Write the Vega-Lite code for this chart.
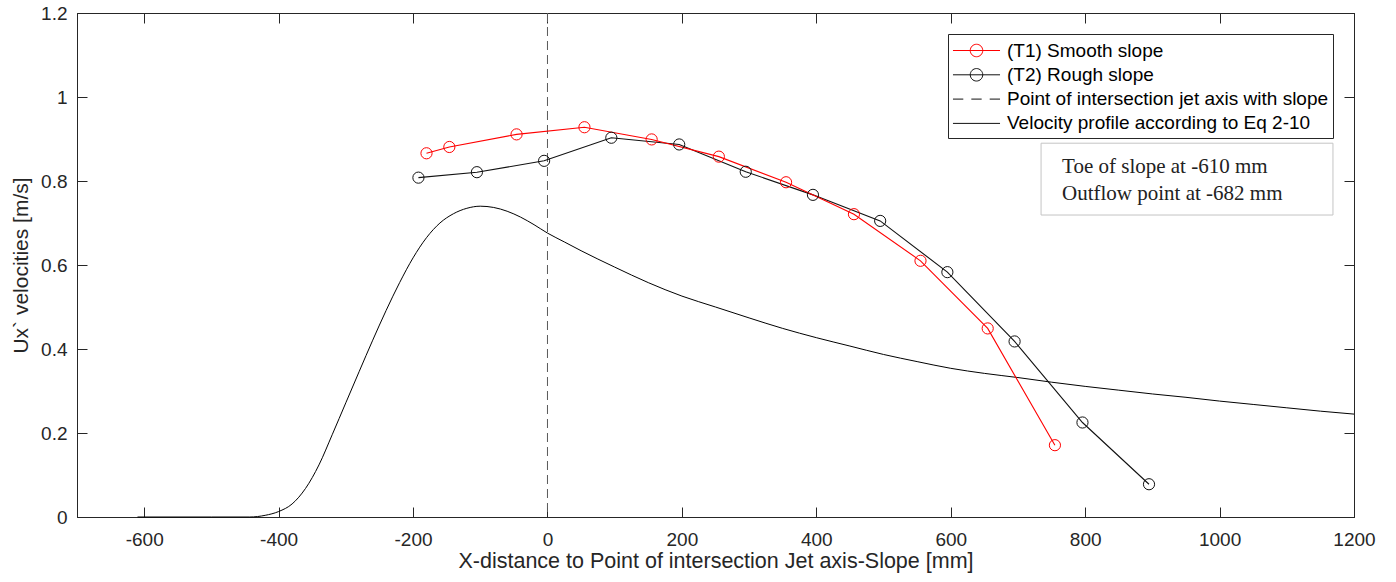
{
  "$schema": "https://vega.github.io/schema/vega-lite/v6.json",
  "width": 1277,
  "height": 504,
  "autosize": {"type": "none"},
  "padding": {"left": 77, "top": 13, "right": 42, "bottom": 65},
  "background": "#ffffff",
  "datasets": {
    "measured": [
      {"series": "(T1) Smooth slope", "x_mm": -180, "u": 0.866},
      {"series": "(T1) Smooth slope", "x_mm": -146, "u": 0.881},
      {"series": "(T1) Smooth slope", "x_mm": -46, "u": 0.911},
      {"series": "(T1) Smooth slope", "x_mm": 55, "u": 0.928},
      {"series": "(T1) Smooth slope", "x_mm": 155, "u": 0.899},
      {"series": "(T1) Smooth slope", "x_mm": 255, "u": 0.858},
      {"series": "(T1) Smooth slope", "x_mm": 355, "u": 0.797},
      {"series": "(T1) Smooth slope", "x_mm": 456, "u": 0.721},
      {"series": "(T1) Smooth slope", "x_mm": 555, "u": 0.61},
      {"series": "(T1) Smooth slope", "x_mm": 655, "u": 0.449},
      {"series": "(T1) Smooth slope", "x_mm": 755, "u": 0.171},
      {"series": "(T2) Rough slope", "x_mm": -192, "u": 0.808},
      {"series": "(T2) Rough slope", "x_mm": -105, "u": 0.821},
      {"series": "(T2) Rough slope", "x_mm": -5, "u": 0.848},
      {"series": "(T2) Rough slope", "x_mm": 95, "u": 0.903},
      {"series": "(T2) Rough slope", "x_mm": 196, "u": 0.887},
      {"series": "(T2) Rough slope", "x_mm": 295, "u": 0.822},
      {"series": "(T2) Rough slope", "x_mm": 395, "u": 0.767},
      {"series": "(T2) Rough slope", "x_mm": 495, "u": 0.705},
      {"series": "(T2) Rough slope", "x_mm": 595, "u": 0.583},
      {"series": "(T2) Rough slope", "x_mm": 695, "u": 0.418},
      {"series": "(T2) Rough slope", "x_mm": 796, "u": 0.225},
      {"series": "(T2) Rough slope", "x_mm": 895, "u": 0.078}
    ],
    "profile": [
      {"x_mm": -610, "u": 0},
      {"x_mm": -500, "u": 0},
      {"x_mm": -443, "u": 0},
      {"x_mm": -420, "u": 0.004},
      {"x_mm": -400, "u": 0.013},
      {"x_mm": -380, "u": 0.031},
      {"x_mm": -360, "u": 0.068},
      {"x_mm": -340, "u": 0.124},
      {"x_mm": -320, "u": 0.197},
      {"x_mm": -300, "u": 0.272},
      {"x_mm": -280, "u": 0.347},
      {"x_mm": -260, "u": 0.421},
      {"x_mm": -240, "u": 0.492},
      {"x_mm": -220, "u": 0.558},
      {"x_mm": -200, "u": 0.617},
      {"x_mm": -180, "u": 0.665},
      {"x_mm": -160, "u": 0.7},
      {"x_mm": -140, "u": 0.722},
      {"x_mm": -120, "u": 0.735},
      {"x_mm": -100, "u": 0.74},
      {"x_mm": -80, "u": 0.737},
      {"x_mm": -60, "u": 0.728},
      {"x_mm": -40, "u": 0.714},
      {"x_mm": -20, "u": 0.696},
      {"x_mm": 0, "u": 0.676},
      {"x_mm": 25, "u": 0.655},
      {"x_mm": 50, "u": 0.634},
      {"x_mm": 100, "u": 0.595},
      {"x_mm": 150, "u": 0.558},
      {"x_mm": 200, "u": 0.526},
      {"x_mm": 250, "u": 0.5},
      {"x_mm": 300, "u": 0.474},
      {"x_mm": 350, "u": 0.449},
      {"x_mm": 400, "u": 0.427},
      {"x_mm": 450, "u": 0.407},
      {"x_mm": 500, "u": 0.387},
      {"x_mm": 550, "u": 0.37},
      {"x_mm": 600, "u": 0.354},
      {"x_mm": 650, "u": 0.342},
      {"x_mm": 700, "u": 0.332},
      {"x_mm": 750, "u": 0.321},
      {"x_mm": 800, "u": 0.311},
      {"x_mm": 850, "u": 0.302},
      {"x_mm": 900, "u": 0.293},
      {"x_mm": 950, "u": 0.285},
      {"x_mm": 1000, "u": 0.276},
      {"x_mm": 1050, "u": 0.268},
      {"x_mm": 1100, "u": 0.26},
      {"x_mm": 1150, "u": 0.252},
      {"x_mm": 1200, "u": 0.245}
    ]
  },
  "layer": [
    {
      "description": "Point of intersection of the jet axis with the slope (x = 0), plus the top frame axis",
      "data": {"values": [{}]},
      "mark": {"type": "rule", "stroke": "#5a5a5a", "strokeWidth": 1, "strokeDash": [9, 5]},
      "encoding": {
        "x": {
          "datum": 0,
          "type": "quantitative",
          "scale": {"domain": [-700, 1200], "nice": false, "zero": false},
          "axis": {"orient": "top", "values": [-600, -400, -200, 0, 200, 400, 600, 800, 1000, 1200], "labels": false, "title": null, "domain": true, "ticks": true, "tickSize": -10}
        }
      }
    },
    {
      "description": "Velocity profile according to Eq 2-10, plus the right frame axis",
      "data": {"name": "profile"},
      "mark": {"type": "line", "stroke": "#000000", "strokeWidth": 1, "interpolate": "monotone"},
      "encoding": {
        "x": {"field": "x_mm", "type": "quantitative", "scale": {"domain": [-700, 1200], "nice": false, "zero": false}, "axis": null},
        "y": {
          "field": "u",
          "type": "quantitative",
          "scale": {"domain": [0, 1.2], "nice": false, "zero": false},
          "axis": {"orient": "right", "values": [0, 0.2, 0.4, 0.6, 0.8, 1, 1.2], "labels": false, "title": null, "domain": true, "ticks": true, "tickSize": -10}
        }
      }
    },
    {
      "description": "T2 rough slope, connecting line; carries the labelled bottom and left axes",
      "data": {"name": "measured"},
      "transform": [{"filter": "datum.series === '(T2) Rough slope'"}],
      "mark": {"type": "line", "stroke": "#111111", "strokeWidth": 1.1},
      "encoding": {
        "x": {
          "field": "x_mm",
          "type": "quantitative",
          "scale": {"domain": [-700, 1200], "nice": false, "zero": false},
          "axis": {
            "orient": "bottom",
            "values": [-600, -400, -200, 0, 200, 400, 600, 800, 1000, 1200],
            "labelExpr": "'' + datum.value",
            "tickSize": -10,
            "labelPadding": 23,
            "title": "X-distance to Point of intersection Jet axis-Slope [mm]",
            "titleFontSize": 21.5,
            "titleY": 50,
            "titleBaseline": "alphabetic"
          }
        },
        "y": {
          "field": "u",
          "type": "quantitative",
          "scale": {"domain": [0, 1.2], "nice": false, "zero": false},
          "axis": {
            "orient": "left",
            "values": [0, 0.2, 0.4, 0.6, 0.8, 1, 1.2],
            "labelExpr": "'' + datum.value",
            "tickSize": -10,
            "labelPadding": 20,
            "title": "Ux` velocities [m/s]",
            "titleFontSize": 21,
            "titleX": -50,
            "titleAngle": 270,
            "titleBaseline": "alphabetic"
          }
        }
      }
    },
    {
      "description": "T1 smooth slope, connecting line",
      "data": {"name": "measured"},
      "transform": [{"filter": "datum.series === '(T1) Smooth slope'"}],
      "mark": {"type": "line", "stroke": "#ff0000", "strokeWidth": 1.1},
      "encoding": {
        "x": {"field": "x_mm", "type": "quantitative", "scale": {"domain": [-700, 1200], "nice": false, "zero": false}, "axis": null},
        "y": {"field": "u", "type": "quantitative", "scale": {"domain": [0, 1.2], "nice": false, "zero": false}, "axis": null}
      }
    },
    {
      "description": "T2 rough slope, open circle markers",
      "data": {"name": "measured"},
      "transform": [{"filter": "datum.series === '(T2) Rough slope'"}],
      "mark": {"type": "point", "shape": "circle", "filled": false, "size": 125, "strokeWidth": 1, "opacity": 1, "stroke": "#111111"},
      "encoding": {
        "x": {"field": "x_mm", "type": "quantitative", "scale": {"domain": [-700, 1200], "nice": false, "zero": false}, "axis": null},
        "y": {"field": "u", "type": "quantitative", "scale": {"domain": [0, 1.2], "nice": false, "zero": false}, "axis": null}
      }
    },
    {
      "description": "T1 smooth slope, open circle markers",
      "data": {"name": "measured"},
      "transform": [{"filter": "datum.series === '(T1) Smooth slope'"}],
      "mark": {"type": "point", "shape": "circle", "filled": false, "size": 125, "strokeWidth": 1, "opacity": 1, "stroke": "#ff0000"},
      "encoding": {
        "x": {"field": "x_mm", "type": "quantitative", "scale": {"domain": [-700, 1200], "nice": false, "zero": false}, "axis": null},
        "y": {"field": "u", "type": "quantitative", "scale": {"domain": [0, 1.2], "nice": false, "zero": false}, "axis": null}
      }
    },
    {
      "description": "Legend entries: line-and-marker, dashed and solid key symbols",
      "data": {"values": []},
      "mark": {"type": "point", "filled": false, "strokeWidth": 1, "opacity": 1},
      "encoding": {
        "stroke": {
          "field": "series",
          "type": "nominal",
          "scale": {
            "domain": ["(T1) Smooth slope", "(T2) Rough slope", "Point of intersection jet axis with slope", "Velocity profile according to Eq 2-10"],
            "range": ["#ff0000", "#111111", "#111111", "#111111"]
          },
          "legend": {"title": null}
        },
        "shape": {
          "field": "series",
          "type": "nominal",
          "scale": {
            "domain": ["(T1) Smooth slope", "(T2) Rough slope", "Point of intersection jet axis with slope", "Velocity profile according to Eq 2-10"],
            "range": [
              "M-1.96,0H1.96M0.52,0A0.52,0.52,0,1,1,-0.52,0A0.52,0.52,0,1,1,0.52,0",
              "M-1.96,0H1.96M0.52,0A0.52,0.52,0,1,1,-0.52,0A0.52,0.52,0,1,1,0.52,0",
              "M-1.96,0H-1.1M-0.43,0H0.43M1.1,0H1.96",
              "M-1.96,0H1.96"
            ]
          },
          "legend": {"title": null}
        }
      }
    },
    {
      "description": "Note box",
      "data": {"values": [{}]},
      "mark": {"type": "rect", "fill": "#ffffff", "stroke": "#c4c4c4", "strokeWidth": 1},
      "encoding": {
        "x": {"datum": 734.4, "type": "quantitative", "axis": null},
        "x2": {"datum": 1168.7},
        "y": {"datum": 0.89, "type": "quantitative", "axis": null},
        "y2": {"datum": 0.719}
      }
    },
    {
      "description": "Note text",
      "data": {"values": [{}]},
      "mark": {
        "type": "text",
        "text": ["Toe of slope at -610 mm", "Outflow point at -682 mm"],
        "font": "Liberation Serif",
        "fontSize": 21,
        "lineHeight": 27,
        "align": "left",
        "baseline": "alphabetic",
        "color": "#222222"
      },
      "encoding": {
        "x": {"datum": 765.6, "type": "quantitative", "axis": null},
        "y": {"datum": 0.819, "type": "quantitative", "axis": null}
      }
    }
  ],
  "resolve": {"axis": {"x": "independent", "y": "independent"}},
  "config": {
    "view": {"stroke": "#262626", "strokeWidth": 1},
    "font": "Liberation Sans",
    "axis": {
      "grid": false,
      "domainColor": "#262626",
      "domainWidth": 1,
      "tickColor": "#262626",
      "tickWidth": 1,
      "labelColor": "#262626",
      "titleColor": "#262626",
      "labelFont": "Liberation Sans",
      "titleFont": "Liberation Sans",
      "labelFontSize": 19,
      "titleFontSize": 21,
      "titleFontWeight": "normal",
      "labelFlush": false,
      "labelOverlap": false,
      "labelBound": false
    },
    "legend": {
      "orient": "none",
      "legendX": 871,
      "legendY": 21,
      "padding": 4,
      "strokeColor": "#262626",
      "fillColor": "#ffffff",
      "symbolSize": 576,
      "symbolOffset": 12,
      "labelOffset": 18,
      "rowPadding": 1.3,
      "symbolStrokeWidth": 1,
      "symbolFillColor": "transparent",
      "labelFont": "Liberation Sans",
      "labelFontSize": 19,
      "labelColor": "#000000",
      "labelLimit": 500
    }
  }
}
